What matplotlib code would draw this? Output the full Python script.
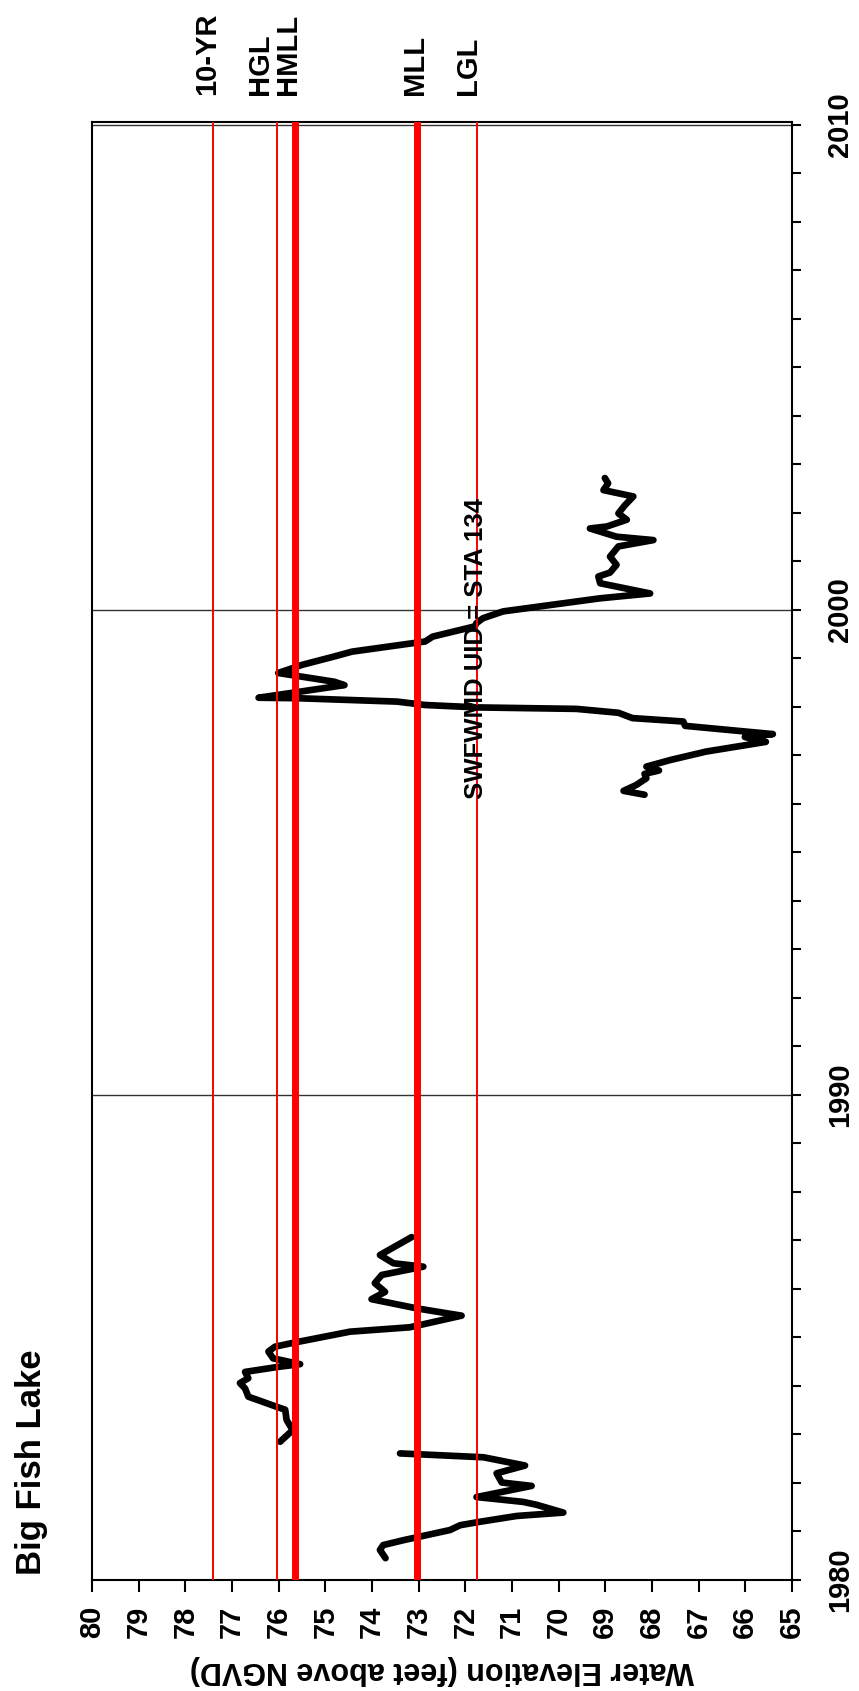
import matplotlib
matplotlib.use('Agg')
import matplotlib.pyplot as plt
import numpy as np

plt.rcParams['font.family'] = ['Liberation Sans', 'DejaVu Sans']
plt.rcParams['font.weight'] = 'bold'

# water level record (NaN = gap in record)
years = [1980.45, 1980.62, 1980.72, 1980.82, 1981.03, 1981.13, 1981.20, 1981.32, 1981.39,
         1981.55, 1981.61, 1981.71, 1981.94, 1982.01, 1982.20, 1982.36, 1982.53, 1982.61,
         np.nan,
         1982.85, 1983.09, 1983.30, 1983.51, 1983.57, 1983.78, 1983.95, 1984.06, 1984.16,
         1984.29, 1984.39, 1984.45, 1984.57, 1984.71, 1984.81, 1984.89, 1985.12, 1985.21,
         1985.45, 1985.60, 1985.79, 1985.94, 1986.12, 1986.29, 1986.46, 1986.53, 1986.70,
         1987.07,
         np.nan,
         1996.19, 1996.27, 1996.39, 1996.53, 1996.62, 1996.69, 1996.77, 1996.91, 1997.08,
         1997.28, 1997.38, 1997.44, 1997.61, 1997.70, 1997.77, 1997.88, 1997.96, 1997.99,
         1998.04, 1998.11, 1998.18, 1998.19, 1998.45, 1998.52, 1998.70, 1998.87, 1999.04,
         1999.14, 1999.35, 1999.45, 1999.66, 1999.73, 1999.83, 1999.97, 2000.10, 2000.24,
         2000.34, 2000.55, 2000.69, 2000.77, 2000.93, 2001.10, 2001.31, 2001.44, 2001.51,
         2001.68, 2001.72, 2001.86, 2001.99, 2002.16, 2002.34, 2002.47, 2002.61, 2002.72]
elev = [73.71, 73.83, 73.76, 73.33, 72.33, 72.11, 71.69, 70.90, 69.90,
        70.47, 70.76, 71.76, 70.58, 71.22, 71.33, 70.72, 71.61, 73.40,
        np.nan,
        75.97, 75.70, 75.83, 75.86, 76.04, 76.65, 76.72, 76.83, 76.65,
        76.72, 76.04, 75.54, 76.12, 76.22, 76.08, 75.69, 74.47, 73.19,
        72.08, 73.04, 74.01, 73.72, 73.94, 73.79, 72.90, 73.54, 73.83,
        73.15,
        np.nan,
        68.16, 68.61, 68.34, 68.12, 68.16, 67.85, 68.12, 67.59, 66.84,
        65.56, 66.01, 65.41, 67.29, 67.33, 68.42, 68.72, 69.62, 71.73,
        72.86, 73.46, 75.60, 76.43, 74.59, 74.81, 76.01, 75.49, 74.81,
        74.43, 72.86, 72.70, 71.80, 71.76, 71.62, 71.19, 70.19, 69.11,
        68.04, 69.11, 69.15, 68.90, 68.76, 68.90, 68.72, 67.97, 68.76,
        69.33, 68.97, 68.54, 68.72, 68.58, 68.40, 69.04, 68.94, 69.01]

# guidance levels
lev_names = ['10-YR', 'HGL', 'HMLL', 'MLL', 'LGL']
lev_vals = [77.40, 76.04, 75.64, 73.04, 71.74]
lev_lw = [1.4, 1.4, 5, 5, 1.4]
lev_label_x = [207, 260, 288, 415, 468]   # label centres, pixels

W, H = 859, 1691
fig = plt.figure(figsize=(W / 100, H / 100), dpi=100)
ax = fig.add_axes([92 / W, 1 - 1580 / H, 700 / W, 1458 / H])

ax.plot(elev, years, color='black', lw=4.8, solid_capstyle='round',
        solid_joinstyle='round', zorder=2)
for v, lw in zip(lev_vals, lev_lw):
    ax.axvline(v, color='red', lw=lw, zorder=3)

ax.set_xlim(80, 65)
ax.set_ylim(1980, 2010.06)
ax.set_xticks(range(65, 81))
ax.set_yticks([1980, 1990, 2000, 2010])
ax.set_yticks(range(1980, 2011), minor=True)
ax.yaxis.tick_right()
ax.grid(axis='y', which='major', color='#333333', lw=1)
ax.tick_params(axis='x', direction='out', length=8.6, width=1.5, pad=10,
               labelsize=21, labelrotation=90)
ax.tick_params(axis='y', which='both', direction='out', length=6.5, width=1.5,
               pad=18, labelsize=21, labelrotation=90)
for lab in ax.get_yticklabels():
    lab.set_va('center')
for s in ax.spines.values():
    s.set_linewidth(1.5)

ax.set_xlabel('Water Elevation (feet above NGVD)', fontsize=22, fontweight='bold',
              rotation=180, labelpad=12)

for name, px in zip(lev_names, lev_label_x):
    fig.text(px / W, 1 - 95 / H, name, rotation=90, ha='center', va='bottom',
             fontsize=21, fontweight='bold')

fig.text(31 / W, 1 - 1462 / H, 'Big Fish Lake', rotation=90, ha='center',
         va='center', fontsize=25, fontweight='bold')
fig.text(476 / W, 1 - 649 / H, 'SWFWMD UID = STA 134', rotation=90, ha='center',
         va='center', fontsize=18.5, fontweight='bold')

fig.savefig('out.png', dpi=100)
